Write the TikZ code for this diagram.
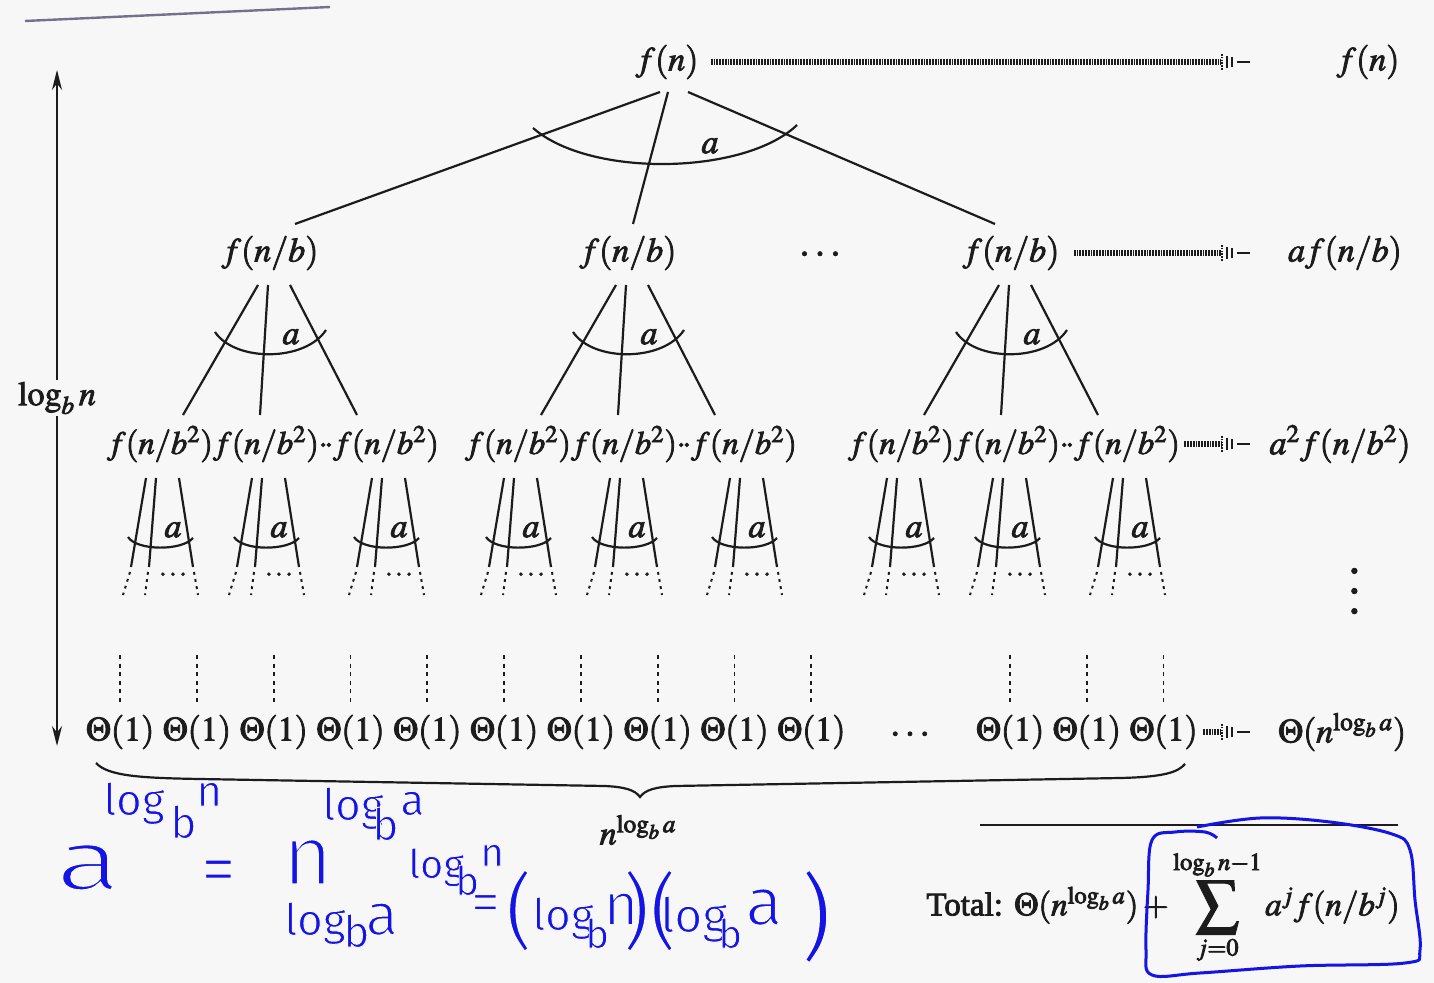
\documentclass[tikz,border=0pt]{standalone}
\usepackage{mathptmx}
\usepackage{fontspec}
\setmainfont{Liberation Serif}
\newfontfamily\handfont{Fira Sans}
\usetikzlibrary{calc,arrows.meta}
\definecolor{ink}{RGB}{28,28,28}
\definecolor{pen}{RGB}{20,20,228}
\definecolor{paper}{RGB}{247,247,247}
\definecolor{scan}{RGB}{118,112,140}
\newcommand{\hs}[1]{\handfont\fontsize{#1}{#1}\selectfont}
\newcommand{\thin}[2]{\special{pdf:literal direct 2 Tr #1 w 0.9686 0.9686 0.9686 RG}#2\special{pdf:literal direct 0 Tr}}
\newcommand{\heavy}{\special{pdf:literal direct 2 Tr 0.4 w}}
\newcommand{\unheavy}{\special{pdf:literal direct 0 Tr}}
\tikzset{
  lbl/.style={inner sep=1pt, text=ink, execute at begin node=\heavy, execute at end node=\unheavy},
  tl/.style={draw=ink, line width=1.1pt},
  dl/.style={draw=ink, line width=1pt, dash pattern=on 1.4pt off 2.2pt},
  vdl/.style={draw=ink, line width=0.9pt, dash pattern=on 2pt off 2.3pt},
  harrow/.style={draw=ink, line width=2.6pt, dash pattern=on 0.9pt off 0.5pt},
  hw/.style={text=pen, inner sep=0pt, anchor=base west},
  dtip/.pic={
    \draw[ink, line width=1.4pt, dash pattern=on 0.8pt off 0.6pt] (-30,-8) -- (-30,8);
    \draw[ink, line width=1.2pt] (-25,-6) -- (-25,6);
    \draw[ink, line width=1.2pt] (-20,-5) -- (-20,5);
    \draw[ink, line width=0.9pt] (-15,0) -- (-2,0);
  }
}
\begin{document}
\begin{tikzpicture}[x=0.5pt,y=-0.5pt,font=\fontsize{17}{20}\selectfont]
\fill[paper] (0,0) rectangle (1434,983);
\useasboundingbox (0,0) rectangle (1434,983);
\draw[scan, line width=1.2pt] (25,21) -- (330,7);

% root level
\node[lbl] (r) at (667,62) {$f(n)$};
\node[lbl] (s0) at (1368,62) {$f(n)$};
\coordinate (t0) at (1252,62);
\draw[harrow] ($(r.east)+(10,0)$) -- ($(t0)+(-31,0)$);
\pic at (t0) {dtip};

% level 1
\foreach \i/\X in {1/270,2/628,3/1011}{
  \node[lbl] (m\i) at (\X,253) {$f(n/b)$};
}
\node[lbl, font=\fontsize{20}{20}\selectfont] (mdots) at (820,255) {$\cdots$};
\node[lbl] (s1) at (1345,253) {$af(n/b)$};
\coordinate (t1) at (1252,253);
\draw[harrow] ($(m3.east)+(12,0)$) -- ($(t1)+(-31,0)$);
\pic at (t1) {dtip};

\draw[tl] ($(r)+(-7,30)$) -- ($(m1)+(25,-29)$);
\draw[tl] ($(r)+(1,30)$) -- ($(m2)+(5,-29)$);
\draw[tl] ($(r)+(21,30)$) -- ($(m3)+(-16,-29)$);
\draw[tl] (533,128) .. controls (590,178) and (745,175) .. (797,125);
\node[lbl] (ra) at (710,146) {$a$};

% level 2
\foreach \g/\X in {1/270,2/628,3/1011}{
  \node[lbl, inner sep=0pt, font=\fontsize{16.3}{20}\selectfont] (c\g1) at (\X-110,444) {$f(n/b^2)$};
  \node[lbl, inner sep=0pt, font=\fontsize{16.3}{20}\selectfont] (c\g2) at (\X-4,444) {$f(n/b^2)$};
  \node[lbl, inner sep=0pt, font=\fontsize{16.3}{20}\selectfont] (c\g3) at (\X+116,444) {$f(n/b^2)$};
  \node[lbl, inner sep=0pt] (cd\g) at (\X+56,446) {$\cdot\!\cdot$};
  \draw[tl] ($(m\g)+(-12,32)$) -- ($(c\g1)+(23,-29)$);
  \draw[tl] ($(m\g)+(-2,32)$) -- ($(c\g2)+(-6,-29)$);
  \draw[tl] ($(m\g)+(20,32)$) -- ($(c\g3)+(-29,-29)$);
  \draw[tl] ($(m\g)+(-55,79)$) .. controls ($(m\g)+(-35,109)$) and ($(m\g)+(35,109)$) .. ($(m\g)+(56,77)$);
  \node[lbl] (ma\g) at ($(m\g)+(21,84)$) {$a$};
}
\node[lbl] (s2) at (1340,444) {$a^2f(n/b^2)$};
\coordinate (t2) at (1252,444);
\draw[harrow] ($(c33.east)+(4,0)$) -- ($(t2)+(-31,0)$);
\pic at (t2) {dtip};

% level 3 fans
\foreach \n in {c11,c12,c13,c21,c22,c23,c31,c32,c33}{
  \draw[tl] ($(\n)+(-14,34)$) -- ($(\n)+(-29,123)$);
  \draw[dl] ($(\n)+(-30,128)$) -- ($(\n)+(-37,151)$);
  \draw[tl] ($(\n)+(-4,34)$) -- ($(\n)+(-11,123)$);
  \draw[dl] ($(\n)+(-12,128)$) -- ($(\n)+(-15,151)$);
  \draw[tl] ($(\n)+(19,34)$) -- ($(\n)+(33,123)$);
  \draw[dl] ($(\n)+(34,128)$) -- ($(\n)+(38,151)$);
  \draw[tl] ($(\n)+(-32,93)$) .. controls ($(\n)+(-23,107)$) and ($(\n)+(22,107)$) .. ($(\n)+(33,94)$);
  \node[lbl] (\n a) at ($(\n)+(13,86)$) {$a$};
  \node[lbl, font=\fontsize{13}{13}\selectfont] (\n d) at ($(\n)+(13,131)$) {$\cdots$};
}
\node[lbl, font=\fontsize{26}{26}\selectfont] (s3) at (1356,591) {\rotatebox{90}{$\cdots$}};

% leaves
\foreach \k/\x in {1/120,2/196.8,3/273.6,4/350.4,5/427.2,6/504,7/580.8,8/657.6,9/734.4,10/811.2,11/1010,12/1086.7,13/1163.4}{
  \node[lbl] (th\k) at (\x,732) {$\Theta(1)$};
  \draw[vdl] ($(th\k)+(0,-77)$) -- ($(th\k)+(0,-27)$);
}
\node[lbl, font=\fontsize{19}{20}\selectfont] (thd) at (910,735) {$\cdots$};
\node[lbl] (s4) at (1342,732) {$\Theta(n^{\log_b a})$};
\coordinate (t3) at (1252,732);
\draw[harrow] ($(th13.east)+(3,0)$) -- ($(t3)+(-31,0)$);
\pic at (t3) {dtip};

% height arrow
\node[lbl] (lg) at (57,398) {$\log_b n$};
\coordinate (lgt) at (57,70);
\coordinate (lgb) at (57,746);
\draw[ink, line width=0.9pt, -{Stealth[length=10pt,width=5pt]}] (lg.north) -- (lgt);
\draw[ink, line width=0.9pt, -{Stealth[length=10pt,width=5pt]}] (lg.south) -- (lgb);

% brace
\draw[ink, line width=1.1pt] (96,763) .. controls (108,776) and (140,778) .. (200,779) -- (605,786) .. controls (625,787) and (635,790) .. (640,797) .. controls (645,790) and (655,787) .. (675,786) -- (1120,778) .. controls (1165,777) and (1178,772) .. (1185,764);
\node[lbl] (nb) at (638,830) {$n^{\log_b a}$};

% total
\draw[ink, line width=1.1pt] (980,825) -- (1398,825);
\node[lbl, anchor=west, font=\fontsize{16.5}{20}\selectfont] (tot) at (924,907) {Total: $\Theta(n^{\log_b a}) + \mathop{\vcenter{\hbox{\scalebox{1.3}{$\displaystyle\sum$}}}}\limits_{j=0}^{\raisebox{2pt}{$\scriptstyle\log_b n-1$}} a^j f(n/b^j)$};

% handwriting
\draw[pen, line width=1.5pt] plot[smooth, tension=0.6] coordinates {(1197,827) (1260,818) (1330,822) (1392,834) (1410,850) (1415,900) (1420,950) (1405,963) (1300,966) (1200,973) (1152,975) (1146,950) (1148,890) (1152,840) (1175,832) (1205,832) (1217,838)};

\node[hw, font=\hs{43}] (h1) at (55,890) {\thin{1.7}{\scalebox{1.4}[1]{a}}};
\node[hw, font=\hs{22}] (h2) at (103,815) {\thin{0.5}{log}};
\node[hw, font=\hs{22}] (h3) at (170,838) {\thin{0.5}{b}};
\node[hw, font=\hs{22}] (h4) at (196,806) {\thin{0.5}{n}};
\node[hw, font=\hs{36}] (h5) at (200,893) {\thin{1.2}{=}};
\node[hw, font=\hs{43}] (h6) at (282,885) {\thin{1.7}{n}};
\node[hw, font=\hs{22}] (h7) at (322,820) {\thin{0.5}{log}};
\node[hw, font=\hs{22}] (h8) at (372,840) {\thin{0.5}{b}};
\node[hw, font=\hs{22}] (h9) at (400,815) {\thin{0.5}{a}};

\node[hw, font=\hs{22}] (k1) at (284,935) {\thin{0.5}{log}};
\node[hw, font=\hs{22}] (k2) at (343,947) {\thin{0.5}{b}};
\node[hw, font=\hs{30}] (k3) at (365,935) {\thin{1}{a}};
\node[hw, font=\hs{20}] (k4) at (408,878) {\thin{0.4}{log}};
\node[hw, font=\hs{20}] (k5) at (455,895) {\thin{0.4}{b}};
\node[hw, font=\hs{20}] (k6) at (480,866) {\thin{0.4}{n}};
\node[hw, font=\hs{30}] (k7) at (470,922) {\thin{1}{=}};
\node[hw, font=\hs{42}] (k8) at (505,940) {\thin{1.4}{(}};
\node[hw, font=\hs{22}] (k9) at (532,930) {\thin{0.5}{log}};
\node[hw, font=\hs{20}] (k10) at (585,948) {\thin{0.4}{b}};
\node[hw, font=\hs{30}] (k11) at (603,925) {\thin{1}{n}};
\node[hw, font=\hs{42}] (k12) at (622,940) {\thin{1.4}{)(}};
\node[hw, font=\hs{24}] (k13) at (660,932) {\thin{0.6}{log}};
\node[hw, font=\hs{20}] (k14) at (718,948) {\thin{0.4}{b}};
\node[hw, font=\hs{34}] (k15) at (745,925) {\thin{1.1}{a}};
\node[hw, font=\hs{48}] (k16) at (800,950) {\thin{1.5}{)}};
\end{tikzpicture}
\end{document}
